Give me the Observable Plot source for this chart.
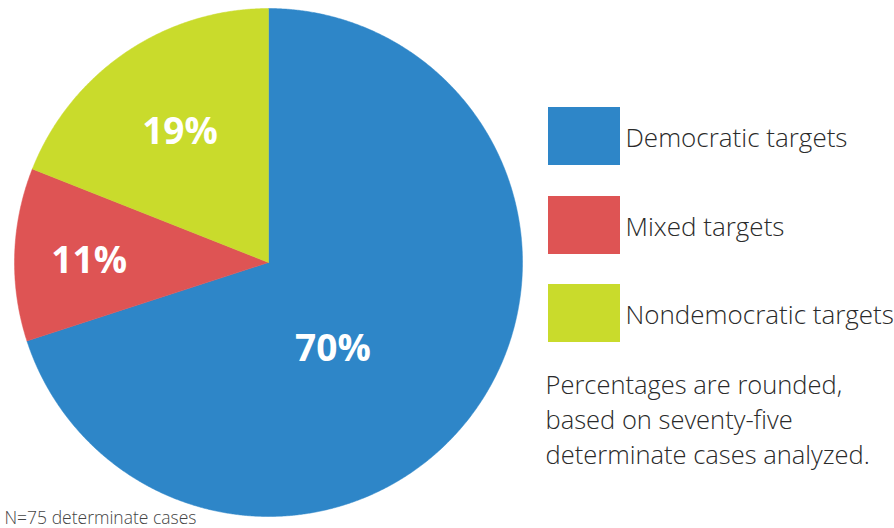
<!DOCTYPE html>
<html>
<head>
<meta charset="utf-8">
<script src="https://cdn.jsdelivr.net/npm/d3@7"></script>
<script src="https://cdn.jsdelivr.net/npm/@observablehq/plot@0.6"></script>
<style>
  html, body { margin: 0; padding: 0; background: #fff; }
  #chart svg { display: block; }
</style>
</head>
<body>
<div id="chart"></div>
<script>
// ---- data ----
const categories = ["Democratic targets", "Mixed targets", "Nondemocratic targets"];
const shares = [70, 11, 19];
const labels = ["70%", "11%", "19%"];
const colors = ["#2E86C8", "#DE5454", "#C9DB2C"];
const noteLines = ["Percentages are rounded,", "based on seventy-five", "determinate cases analyzed."];
const caption = "N=75 determinate cases";

// ---- layout (pixel space) ----
const W = 894, H = 528;
const cx = 268, cy = 262, R = 254;
const labelPos = [[0.415, 143], [0.71, 271], [0.63, 326]]; // radius fraction, angle (deg) for each label
const legendX = 548, legendW = 72, legendH = 58, legendY = [107, 196, 284];

const arcs = d3.pie().sort(null).startAngle(0)(shares);
const slicePts = [];
arcs.forEach((a, i) => {
  const n = Math.max(2, Math.ceil((a.endAngle - a.startAngle) / 0.005));
  slicePts.push({cat: categories[i], x: cx, y: cy});
  for (let k = 0; k <= n; k++) {
    const t = a.startAngle + (a.endAngle - a.startAngle) * k / n;
    slicePts.push({cat: categories[i], x: cx + R * Math.sin(t), y: cy - R * Math.cos(t)});
  }
  slicePts.push({cat: categories[i], x: cx, y: cy});
});
const labelData = categories.map((c, i) => {
  const [f, deg] = labelPos[i];
  const t = deg * Math.PI / 180;
  return {text: labels[i], x: cx + f * R * Math.sin(t), y: cy - f * R * Math.cos(t)};
});
const legendData = categories.map((c, i) => ({cat: c, y1: legendY[i], y2: legendY[i] + legendH}));

const chart = Plot.plot({
  width: W, height: H,
  margin: 0,
  x: {domain: [0, W], range: [0, W], axis: null},
  y: {domain: [0, H], range: [0, H], axis: null},
  color: {domain: categories, range: colors},
  style: {fontFamily: "'Open Sans', sans-serif", background: "#fff"},
  marks: [
    Plot.line(slicePts, {x: "x", y: "y", z: "cat", fill: "cat", stroke: "cat", strokeWidth: 0.5, curve: "linear"}),
    Plot.text(labelData, {x: "x", y: "y", text: "text", fill: "white", fontSize: 37, fontWeight: 700, lineAnchor: "middle", textAnchor: "middle", dx: 1, dy: 2}),
    Plot.rect(legendData, {x1: legendX, x2: legendX + legendW, y1: "y1", y2: "y2", fill: "cat"}),
    Plot.text(legendData, {x: legendX + legendW + 5, y: d => (d.y1 + d.y2) / 2 + 2, text: "cat", fill: "#2a2a2a", fontSize: 26, fontWeight: 300, textAnchor: "start", lineAnchor: "middle"}),
    Plot.text(noteLines, {x: 545, y: (d, i) => 385 + i * 35, text: d => d, fill: "#2a2a2a", fontSize: 25.5, fontWeight: 300, textAnchor: "start", lineAnchor: "middle"}),
    Plot.text([caption], {x: 4, y: 518, text: d => d, fill: "#444", fontSize: 17.5, fontWeight: 300, textAnchor: "start", lineAnchor: "middle"})
  ]
});
document.getElementById("chart").appendChild(chart);
</script>
</body>
</html>
